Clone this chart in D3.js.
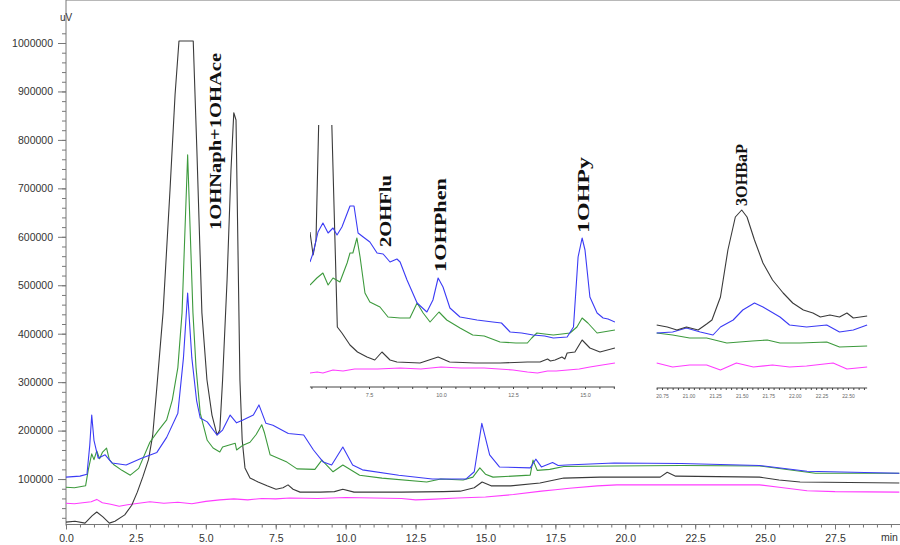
<!DOCTYPE html>
<html>
<head>
<meta charset="utf-8">
<script src="https://cdn.jsdelivr.net/npm/d3@7"></script>
<style>
  body { margin: 0; background: #fff; }
  .tick text { font-family: "Liberation Sans", Arial, sans-serif; }
</style>
</head>
<body>
<svg id="chart" width="900" height="545"></svg>
<script>
// ---- main chromatogram (time in min, signal in uV) ----
var xMajor = [0, 2.5, 5, 7.5, 10, 12.5, 15, 17.5, 20, 22.5, 25, 27.5];
var yMajor = [100000, 200000, 300000, 400000, 500000, 600000, 700000, 800000, 900000, 1000000];

var blackMain = [[0,11000],[0.32,13000],[0.68,9000],[0.93,24000],[1.1,32000],[1.32,22000],[1.55,9000],[1.75,13000],
  [2.1,26000],[2.35,46000],[2.55,73000],[2.75,105000],[2.95,140000],[3.1,190000],[3.25,290000],[3.47,443000],[3.72,697000],
  [3.9,893000],[4.04,1004000],[4.55,1004000],[4.68,779000],[4.86,443000],[5.04,305000],[5.22,232000],[5.4,191000],
  [5.5,201000],[5.6,305000],[5.76,511000],[5.9,738000],[6.0,856000],[6.08,841000],[6.15,573000],[6.22,304000],
  [6.3,181000],[6.4,123000],[6.58,102000],[6.87,94000],[7.19,86000],[7.51,79000],[7.76,82000],[7.94,88000],
  [8.12,79000],[8.37,73000],[9.1,73000],[9.6,74000],[9.9,79000],[10.3,73000],[12,73000],[13.5,74000],[14.1,75000],
  [14.6,82000],[14.88,94000],[15.2,86000],[15.9,86000],[16.95,92000],[17.8,102000],[19.1,104000],[21.25,104000],
  [21.5,114000],[21.8,106000],[24.8,104000],[25.5,98000],[26.25,94000],[29.8,92000]];

var greenMain = [[0,83000],[0.3,82000],[0.5,84000],[0.7,86000],[0.8,120000],[0.92,152000],[1.0,140000],[1.1,158000],
  [1.2,142000],[1.3,155000],[1.45,164000],[1.55,140000],[1.7,130000],[2.0,118000],[2.3,108000],[2.6,122000],
  [3.0,176000],[3.3,200000],[3.6,222000],[3.8,263000],[4.0,330000],[4.15,443000],[4.35,769000],[4.54,443000],
  [4.65,330000],[4.8,236000],[5.05,180000],[5.26,164000],[5.5,156000],[5.6,166000],[6.05,174000],[6.1,160000],
  [6.33,170000],[6.58,176000],[6.8,192000],[7.0,212000],[7.1,195000],[7.3,150000],[7.9,135000],[8.26,121000],
  [8.9,120000],[9.15,139000],[9.55,115000],[9.9,129000],[10.5,108000],[11.3,102000],[12.9,94000],[13.4,100000],
  [14.2,98000],[14.55,104000],[14.8,123000],[15.0,110000],[15.27,104000],[16.6,108000],[16.7,139000],[16.85,118000],
  [17.3,120000],[17.8,126000],[19.6,127000],[22,128000],[24.8,127000],[26.8,112000],[29.8,112000]];

var blueMain = [[0,104000],[0.5,106000],[0.75,110000],[0.85,170000],[0.92,232000],[1.0,180000],[1.15,143000],
  [1.4,150000],[1.65,133000],[2.15,129000],[2.7,143000],[3.25,155000],[3.6,186000],[4.0,236000],[4.2,350000],
  [4.35,484000],[4.5,350000],[4.67,262000],[4.8,226000],[5.05,218000],[5.4,191000],[5.6,201000],[5.87,232000],
  [6.1,216000],[6.33,222000],[6.7,232000],[6.9,253000],[7.15,215000],[7.4,211000],[7.95,194000],[8.5,191000],
  [8.85,160000],[9.2,135000],[9.5,129000],[9.9,166000],[10.25,129000],[10.6,119000],[11.9,108000],[13.1,100000],
  [14.3,100000],[14.6,115000],[14.87,215000],[15.15,150000],[15.5,125000],[16.6,123000],[16.8,141000],[17.0,125000],
  [17.4,134000],[17.6,128000],[17.9,129000],[19.6,133000],[22,132000],[24.8,128000],[26.5,116000],[29.8,112000]];

var magentaMain = [[0,50000],[0.3,49000],[0.6,51000],[0.9,53000],[1.1,58000],[1.3,51000],[1.6,48000],[1.9,44000],
  [2.2,47000],[2.6,50000],[3.0,53000],[3.5,50000],[4.0,52000],[4.5,49000],[5.0,54000],[5.5,57000],[6.0,59000],
  [6.5,57000],[7.0,60000],[7.5,59000],[8.0,61000],[9,60000],[10,62000],[11,61000],[12,60000],[12.5,57000],
  [13,58000],[14,61000],[15,63000],[16,68000],[17,75000],[17.5,78000],[18,81000],[19,86000],[19.7,88000],
  [22,88000],[24.8,88000],[25.5,83000],[26.5,76000],[27.5,74000],[29.8,73000]];

// ---- inset 1 (5.5 - 16 min, signal in uV) ----
var inset1Ticks = [7.5, 10, 12.5, 15];

var blackInset1 = [[5.45,203000],[5.56,180000],[5.66,195000],[5.76,320000],[5.9,600000],[6.1,600000],[6.2,320000],
  [6.4,108000],[6.56,102000],[6.84,90000],[7.1,83000],[7.43,78000],[7.7,75000],[7.95,83000],[8.23,75000],
  [8.47,73000],[9.27,72000],[9.9,78000],[10.3,73000],[11.2,72000],[12.05,72000],[13.0,73000],[13.44,73000],
  [13.7,76000],[13.8,74000],[13.96,75000],[14.2,78000],[14.3,76000],[14.38,82000],[14.65,83000],[14.9,95000],
  [15.17,87000],[15.52,83000],[16.04,87000]];

var greenInset1 = [[5.45,150000],[5.69,157000],[5.9,162000],[6.08,150000],[6.25,157000],[6.49,153000],[6.74,172000],
  [6.84,182000],[6.94,182000],[7.08,197000],[7.19,178000],[7.36,142000],[7.53,133000],[7.88,128000],[8.16,118000],
  [8.58,117000],[8.92,117000],[9.17,132000],[9.38,122000],[9.62,113000],[9.93,123000],[10.2,115000],[10.66,107000],
  [11.1,100000],[11.5,99000],[12.05,93000],[12.6,92000],[13.0,92000],[13.15,97000],[13.33,102000],[13.6,101000],
  [13.9,100000],[14.2,101000],[14.48,102000],[14.72,108000],[14.9,117000],[15.1,112000],[15.42,102000],[16.04,105000]];

var blueInset1 = [[5.45,173000],[5.56,182000],[5.73,203000],[5.9,212000],[6.08,202000],[6.25,207000],[6.39,200000],
  [6.56,208000],[6.84,229000],[6.98,229000],[7.12,202000],[7.3,198000],[7.53,193000],[7.78,182000],[7.99,181000],
  [8.23,173000],[8.47,176000],[8.58,173000],[8.82,155000],[9.17,132000],[9.51,123000],[9.72,135000],[9.9,157000],
  [10.07,148000],[10.31,127000],[10.66,118000],[11.25,115000],[11.8,113000],[12.1,112000],[12.4,103000],[12.8,102000],
  [13.2,100000],[13.6,99000],[13.9,97000],[14.38,98000],[14.6,108000],[14.76,178000],[14.9,197000],[15.0,185000],
  [15.17,138000],[15.42,122000],[15.63,117000],[15.8,116000],[16.04,113000]];

var magentaInset1 = [[5.45,62000],[5.7,63000],[5.9,62000],[6.25,65000],[6.6,64000],[7.0,66000],[7.8,66000],
  [8.58,67000],[9.3,66000],[10,68000],[10.7,67000],[11.5,67000],[12.5,65000],[13.0,63000],[13.35,62000],
  [13.7,64000],[14.0,64000],[14.4,65000],[14.8,66000],[15.17,68000],[15.6,70000],[16.04,72000]];

// ---- inset 2 (around 21.5 min, relative signal) ----
var inset2Ticks = [20.75, 21, 21.25, 21.5, 21.75, 22, 22.25, 22.5];

var blackInset2 = [[20.7,63],[20.8,61],[20.89,58],[20.98,61],[21.09,58],[21.17,64],[21.22,68],[21.3,91],[21.37,138],
  [21.44,171],[21.5,178],[21.55,171],[21.62,148],[21.7,125],[21.79,108],[21.89,95],[21.98,85],[22.08,78],
  [22.17,75],[22.24,71],[22.33,73],[22.42,71],[22.49,75],[22.55,70],[22.68,72]];

var blueInset2 = [[20.7,55],[20.85,56],[20.98,60],[21.11,56],[21.23,53],[21.3,61],[21.42,68],[21.51,78],[21.62,85],
  [21.7,81],[21.86,71],[21.95,63],[22.11,61],[22.3,63],[22.42,56],[22.55,58],[22.68,63]];

var greenInset2 = [[20.7,55],[20.85,53],[21.01,50],[21.17,50],[21.36,45],[21.48,46],[21.6,47],[21.74,48],
  [21.86,45],[22.05,45],[22.3,46],[22.42,41],[22.68,42]];

var magentaInset2 = [[20.7,25],[20.85,21],[21.01,23],[21.17,23],[21.3,18],[21.45,25],[21.61,21],[21.79,23],
  [21.95,21],[22.11,22],[22.36,25],[22.49,19],[22.68,21]];

var colors = { black: '#3a3a3a', green: '#3d9a3d', blue: '#3b3bf5', magenta: '#ff3cff' };

var svg = d3.select('#chart');

var x = d3.scaleLinear().domain([0, 27.5]).range([66, 835]);
var y = d3.scaleLinear().domain([0, 1000000]).range([527.5, 43]);
var left = x(0), right = 900, top = y(1039000), bottom = 524.5;

// frame
svg.append('line').attr('x1', left).attr('x2', right).attr('y1', top).attr('y2', top)
  .attr('stroke', '#a0a0a0').attr('stroke-width', 1.5);
svg.append('line').attr('x1', left).attr('x2', left).attr('y1', top).attr('y2', bottom + 1)
  .attr('stroke', '#777');
svg.append('line').attr('x1', left).attr('x2', right).attr('y1', bottom).attr('y2', bottom)
  .attr('stroke', '#777');

// y axis
var yMinor = d3.range(20000, 1030000, 20000);
var yMin = svg.append('g').attr('transform', 'translate(' + left + ',0)')
  .call(d3.axisLeft(y).tickValues(yMinor).tickSize(4).tickFormat(''));
yMin.select('.domain').remove();
yMin.selectAll('line').attr('stroke', '#777');

var yAx = svg.append('g').attr('transform', 'translate(' + left + ',0)')
  .call(d3.axisLeft(y).tickValues(yMajor).tickSize(8).tickPadding(5).tickFormat(d3.format('d')));
yAx.select('.domain').remove();
yAx.selectAll('line').attr('stroke', '#777');
yAx.selectAll('text').attr('fill', '#333').style('font-size', '10.5px');

// x axis
var xMinor = d3.range(0, 29.9, 0.5);
var xMin = svg.append('g').attr('transform', 'translate(0,' + bottom + ')')
  .call(d3.axisBottom(x).tickValues(xMinor).tickSize(3).tickFormat(''));
xMin.select('.domain').remove();
xMin.selectAll('line').attr('stroke', '#777');

var xAx = svg.append('g').attr('transform', 'translate(0,' + bottom + ')')
  .call(d3.axisBottom(x).tickValues(xMajor).tickSize(5).tickPadding(5).tickFormat(d3.format('.1f')));
xAx.select('.domain').remove();
xAx.selectAll('line').attr('stroke', '#777');
xAx.selectAll('text').attr('fill', '#333').style('font-size', '10.5px');

svg.append('text').attr('x', 60).attr('y', 21).text('uV')
  .attr('fill', '#333').style('font-family', '"Liberation Sans", Arial').style('font-size', '10px');
svg.append('text').attr('x', 881).attr('y', 541).text('min')
  .attr('fill', '#333').style('font-family', '"Liberation Sans", Arial').style('font-size', '10.5px');

// main traces
var line = d3.line().x(function(d) { return x(d[0]); }).y(function(d) { return y(d[1]); });
[[magentaMain, colors.magenta], [blackMain, colors.black], [greenMain, colors.green], [blueMain, colors.blue]]
  .forEach(function(s) {
    svg.append('path').datum(s[0]).attr('d', line).attr('fill', 'none')
      .attr('stroke', s[1]).attr('stroke-width', 1.1).attr('stroke-linejoin', 'round');
  });

// ---- inset 1 ----
var xi = d3.scaleLinear().domain([7.5, 15]).range([369, 585]);
var yi = d3.scaleLinear().domain([0, 310000]).range([435, 125]);
var i1 = { x0: xi(5.45), x1: xi(16.04), y0: yi(310000), axis: 387 };

svg.append('rect').attr('x', i1.x0).attr('y', i1.y0 - 5).attr('width', i1.x1 - i1.x0 + 3)
  .attr('height', 412 - i1.y0).attr('fill', '#fff');
svg.append('clipPath').attr('id', 'clip1').append('rect')
  .attr('x', i1.x0).attr('y', i1.y0).attr('width', i1.x1 - i1.x0).attr('height', i1.axis - i1.y0);

var line1 = d3.line().x(function(d) { return xi(d[0]); }).y(function(d) { return yi(d[1]); });
var g1 = svg.append('g').attr('clip-path', 'url(#clip1)');
[[magentaInset1, colors.magenta], [blackInset1, colors.black], [greenInset1, colors.green], [blueInset1, colors.blue]]
  .forEach(function(s) {
    g1.append('path').datum(s[0]).attr('d', line1).attr('fill', 'none')
      .attr('stroke', s[1]).attr('stroke-width', 1.1).attr('stroke-linejoin', 'round');
  });

svg.append('line').attr('x1', i1.x0).attr('x2', i1.x1).attr('y1', i1.axis).attr('y2', i1.axis)
  .attr('stroke', '#444').attr('stroke-width', 1);
var ax1m = svg.append('g').attr('transform', 'translate(0,' + i1.axis + ')')
  .call(d3.axisBottom(xi).tickValues(d3.range(5.5, 16.1, 0.5)).tickSize(2).tickFormat(''));
ax1m.select('.domain').remove();
ax1m.selectAll('line').attr('stroke', '#444');
var ax1 = svg.append('g').attr('transform', 'translate(0,' + i1.axis + ')')
  .call(d3.axisBottom(xi).tickValues(inset1Ticks).tickSize(2).tickPadding(4).tickFormat(d3.format('.1f')));
ax1.select('.domain').remove();
ax1.selectAll('line').attr('stroke', '#444');
ax1.selectAll('text').attr('fill', '#666').style('font-size', '5.5px');

// ---- inset 2 ----
var xj = d3.scaleLinear().domain([20.75, 22.5]).range([662, 848]);
var yj = d3.scaleLinear().domain([0, 200]).range([388, 188]);
var i2 = { x0: xj(20.7), x1: xj(22.68), axis: 388 };

var line2 = d3.line().x(function(d) { return xj(d[0]); }).y(function(d) { return yj(d[1]); });
[[magentaInset2, colors.magenta], [greenInset2, colors.green], [blueInset2, colors.blue], [blackInset2, colors.black]]
  .forEach(function(s) {
    svg.append('path').datum(s[0]).attr('d', line2).attr('fill', 'none')
      .attr('stroke', s[1]).attr('stroke-width', 1.1).attr('stroke-linejoin', 'round');
  });

svg.append('line').attr('x1', i2.x0).attr('x2', i2.x1).attr('y1', i2.axis).attr('y2', i2.axis)
  .attr('stroke', '#444');
var ax2m = svg.append('g').attr('transform', 'translate(0,' + i2.axis + ')')
  .call(d3.axisBottom(xj).tickValues(d3.range(20.7, 22.7, 0.05)).tickSize(2).tickFormat(''));
ax2m.select('.domain').remove();
ax2m.selectAll('line').attr('stroke', '#444');
var ax2 = svg.append('g').attr('transform', 'translate(0,' + i2.axis + ')')
  .call(d3.axisBottom(xj).tickValues(inset2Ticks).tickSize(2).tickPadding(4).tickFormat(d3.format('.2f')));
ax2.select('.domain').remove();
ax2.selectAll('line').attr('stroke', '#444');
ax2.selectAll('text').attr('fill', '#666').style('font-size', '5px');

// ---- peak labels ----
var peakLabels = ['1OHNaph+1OHAce', '2OHFlu', '1OHPhen', '1OHPy', '3OHBaP'];
var labelSpots = [
  { x: 221, y: 230, len: 177 },
  { x: 391, y: 247, len: 72 },
  { x: 446, y: 272, len: 94 },
  { x: 589, y: 233, len: 76 },
  { x: 747, y: 206, len: 62 }
];
peakLabels.forEach(function(t, i) {
  var p = labelSpots[i];
  svg.append('text').attr('transform', 'translate(' + p.x + ',' + p.y + ') rotate(-90)')
    .attr('textLength', p.len).attr('lengthAdjust', 'spacingAndGlyphs')
    .style('font-family', '"Liberation Serif", "Times New Roman", serif')
    .style('font-weight', 'bold').style('font-size', '17px').attr('fill', '#111')
    .text(t);
});
</script>
</body>
</html>
